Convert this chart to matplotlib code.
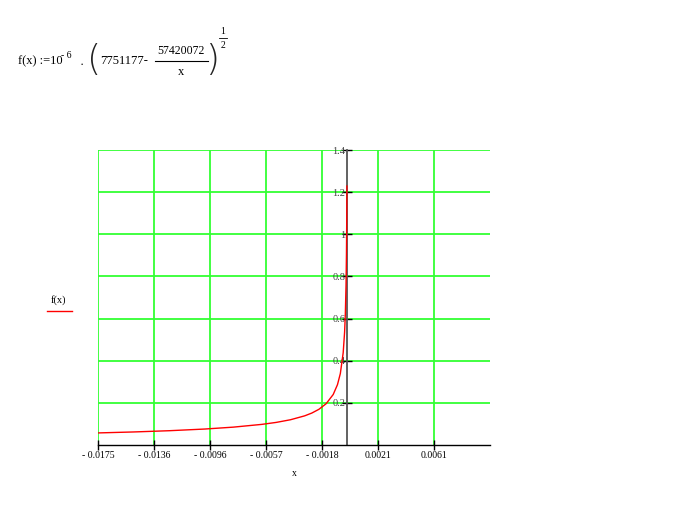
import matplotlib
matplotlib.use('Agg')
import matplotlib.pyplot as plt
import numpy as np

plt.rcParams['font.family'] = ['Liberation Serif', 'DejaVu Serif']

# points (x, f(x))
x_vals = [-0.0175, -0.015, -0.0125, -0.01, -0.008, -0.006, -0.005, -0.004,
          -0.003, -0.0025, -0.002, -0.0015, -0.001, -0.0007, -0.0005,
          -0.0003, -0.0002, -0.00015, -0.0001, -0.00007, -0.00005, -0.000038]
y_vals = [0.0573, 0.0619, 0.0678, 0.0758, 0.0848, 0.0979, 0.1072, 0.1198,
          0.1384, 0.1516, 0.1695, 0.1957, 0.2396, 0.2864, 0.3389,
          0.4375, 0.5358, 0.6187, 0.7578, 0.9057, 1.0716, 1.229]

x_tick_labels = ['- 0.0175', '- 0.0136', '- 0.0096', '- 0.0057', '- 0.0018',
                 '0.0021', '0.0061']
y_ticks = [0.2, 0.4, 0.6, 0.8, 1.0, 1.2, 1.4]
y_tick_labels = ['0.2', '0.4', '0.6', '0.8', '1', '1.2', '1.4']

XMIN, XMAX = -0.0175, 0.01
YMIN, YMAX = 0.0, 1.4
GREEN = '#33ff33'
W, H = 673, 515

fig = plt.figure(figsize=(W / 100, H / 100), dpi=100)
ax = fig.add_axes([98/W, 70/H, 392/W, 295/H])

ax.set_xlim(XMIN, XMAX)
ax.set_ylim(YMIN, YMAX)

# grid
x_ticks = np.linspace(XMIN, XMAX, 8)[:-1]
for xt in x_ticks:
  ax.plot([xt, xt], [YMIN, YMAX], color=GREEN, lw=1.3, zorder=1)
for yt in y_ticks:
  ax.plot([XMIN, XMAX], [yt, yt], color=GREEN, lw=1.3, zorder=1)

ax.plot(x_vals, y_vals, color='#ff0000', lw=1.0, zorder=3)

for side in ('top', 'right'):
  ax.spines[side].set_visible(False)
ax.spines['left'].set_position(('data', 0))
ax.spines['left'].set_color('#555555')
ax.spines['left'].set_linewidth(1.3)
ax.spines['left'].set_zorder(2)
ax.spines['bottom'].set_color('black')
ax.spines['bottom'].set_linewidth(1.0)

ax.set_xticks(x_ticks)
ax.set_xticklabels(x_tick_labels, fontsize=7)
ax.set_yticks(y_ticks)
ax.set_yticklabels(y_tick_labels, fontsize=7.5, color='#444444')
ax.tick_params(axis='both', direction='inout', length=7, width=1.0, color='black')
ax.tick_params(axis='x', pad=1, colors='black')
ax.tick_params(axis='y', pad=-2)

ax.set_xlabel('x', fontsize=7, labelpad=6)


def ptext(x, y, s, **kw):
  # place text using pixel coordinates measured from the top left
  return fig.text(x / W, 1 - y / H, s, **kw)


def pline(x0, x1, y, **kw):
  fig.add_artist(plt.Line2D([x0 / W, x1 / W], [1 - y / H, 1 - y / H], **kw))


# legend on the left
ptext(58, 300, 'f(x)', fontsize=7.5, ha='center', va='center')
pline(47, 72, 311, color='#ff0000', lw=1.0)

# formula
paren = dict(fontsize=26, ha='center', va='center', family='DejaVu Sans',
             fontweight='light', color='#222222')
ptext(18, 61, 'f(x) :=10', fontsize=9, ha='left', va='center')
ptext(61, 55, '- 6', fontsize=7, ha='left', va='center')
ptext(82, 65, '·', fontsize=9, ha='center', va='center')
ptext(94, 60, '(', **paren)
ptext(100, 61, '7751177-', fontsize=9, ha='left', va='center')
ptext(181, 51, '57420072', fontsize=8.5, ha='center', va='center')
pline(155, 208, 61, color='black', lw=0.8)
ptext(181, 72, 'x', fontsize=9, ha='center', va='center')
ptext(212, 60, ')', **paren)
ptext(223, 31, '1', fontsize=7, ha='center', va='center')
pline(219, 227, 38, color='black', lw=0.6)
ptext(223, 45, '2', fontsize=7, ha='center', va='center')

fig.savefig('out.png', dpi=100)
